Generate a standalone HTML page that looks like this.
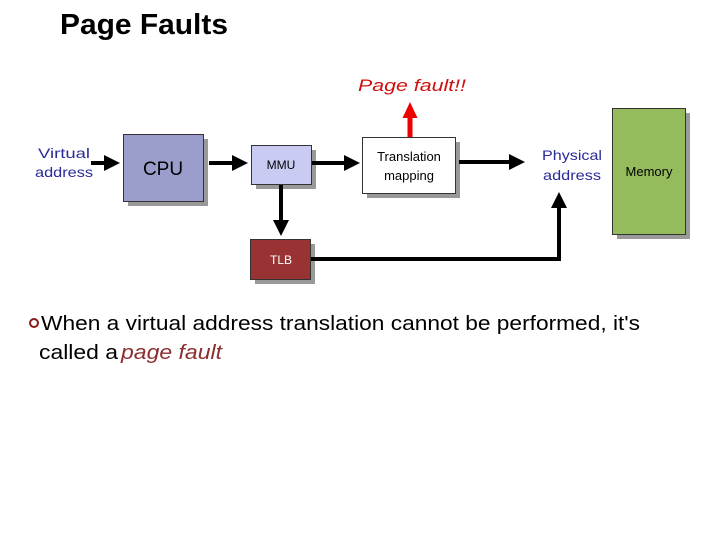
<!DOCTYPE html>
<html><head><meta charset="utf-8"><style>html,body{margin:0;padding:0;background:#fff;}svg{display:block}</style></head>
<body>
<svg width="720" height="540" viewBox="0 0 720 540" xmlns="http://www.w3.org/2000/svg" font-family="Liberation Sans, sans-serif">
<defs>
<marker id="ah" markerWidth="4" markerHeight="4" refX="3" refY="2" orient="auto" markerUnits="strokeWidth"><path d="M0,0 L4,2 L0,4 z" fill="#000"/></marker>
<marker id="ar" markerWidth="3.2" markerHeight="3" refX="2" refY="1.5" orient="auto" markerUnits="strokeWidth"><path d="M0,0 L3.2,1.5 L0,3 z" fill="#e00"/></marker>
</defs>
<text x="60" y="34" font-size="29" font-weight="bold" textLength="168" lengthAdjust="spacingAndGlyphs">Page Faults</text>
<text x="358" y="91" font-size="17" font-style="italic" fill="#d01010" textLength="108" lengthAdjust="spacingAndGlyphs">Page fault!!</text>
<!-- left labels -->
<text x="64" y="158" font-size="14" fill="#2b2b99" text-anchor="middle" textLength="52" lengthAdjust="spacingAndGlyphs">Virtual</text>
<text x="64" y="177" font-size="14" fill="#2b2b99" text-anchor="middle" textLength="58" lengthAdjust="spacingAndGlyphs">address</text>
<!-- shadows -->
<rect x="128" y="139" width="80" height="67" fill="#999"/>
<rect x="256" y="150" width="60" height="39" fill="#999"/>
<rect x="255" y="244" width="60" height="40" fill="#999"/>
<rect x="367" y="142" width="93" height="56" fill="#999"/>
<rect x="617" y="113" width="73" height="126" fill="#999"/>
<!-- boxes -->
<rect x="123.5" y="134.5" width="80" height="67" fill="#9b9dcb" stroke="#333"/>
<text x="163" y="175" font-size="19" text-anchor="middle">CPU</text>
<rect x="251.5" y="145.5" width="60" height="39" fill="#c9cbf2" stroke="#333"/>
<text x="281" y="169" font-size="12" text-anchor="middle">MMU</text>
<rect x="250.5" y="239.5" width="60" height="40" fill="#993333" stroke="#333"/>
<text x="281" y="264" font-size="12" fill="#fff" text-anchor="middle">TLB</text>
<rect x="362.5" y="137.5" width="93" height="56" fill="#fff" stroke="#333"/>
<text x="409" y="161" font-size="13" text-anchor="middle">Translation</text>
<text x="409" y="180" font-size="13" text-anchor="middle">mapping</text>
<rect x="612.5" y="108.5" width="73" height="126" fill="#94bb5c" stroke="#333"/>
<text x="649" y="176" font-size="13" text-anchor="middle">Memory</text>
<text x="572" y="160" font-size="14" fill="#2b2b99" text-anchor="middle" textLength="60" lengthAdjust="spacingAndGlyphs">Physical</text>
<text x="572" y="180" font-size="14" fill="#2b2b99" text-anchor="middle" textLength="58" lengthAdjust="spacingAndGlyphs">address</text>
<!-- arrows -->
<g stroke="#000" stroke-width="4" fill="none">
<line x1="91" y1="163" x2="116" y2="163" marker-end="url(#ah)"/>
<line x1="209" y1="163" x2="244" y2="163" marker-end="url(#ah)"/>
<line x1="312" y1="163" x2="356" y2="163" marker-end="url(#ah)"/>
<line x1="459" y1="162" x2="521" y2="162" marker-end="url(#ah)"/>
<line x1="281" y1="185" x2="281" y2="232" marker-end="url(#ah)"/>
<polyline points="311,259 559,259 559,196" marker-end="url(#ah)"/>
</g>
<line x1="410" y1="137" x2="410" y2="108" stroke="#e00" stroke-width="5" marker-end="url(#ar)"/>
<!-- bullet text -->
<circle cx="34" cy="323" r="4" fill="none" stroke="#8b1a1a" stroke-width="2"/>
<text x="41" y="330" font-size="20" textLength="599" lengthAdjust="spacingAndGlyphs">When a virtual address translation cannot be performed, it's</text>
<text x="39" y="359" font-size="20" textLength="79" lengthAdjust="spacingAndGlyphs">called a</text>
<text x="121" y="359" font-size="20" font-style="italic" fill="#8b2e2e" textLength="101" lengthAdjust="spacingAndGlyphs">page fault</text>
</svg>
</body></html>
